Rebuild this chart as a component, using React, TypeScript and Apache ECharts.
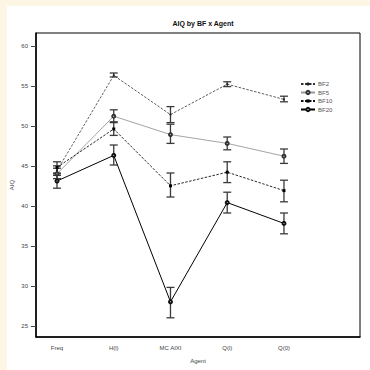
import React, { useEffect, useRef } from "react";
import * as echarts from "echarts";

const categories = ["Freq", "H(l)", "MC AIXI", "Q(l)", "Q(0)"];
const yTicks = [25, 30, 35, 40, 45, 50, 55, 60];
const seriesNames = ["BF2", "BF5", "BF10", "BF20"];

const bf2Mean = [44.4, 56.3, 51.4, 55.2, 53.3];
const bf2Low = [43.8, 56.1, 50.4, 54.9, 53.0];
const bf2High = [45.0, 56.6, 52.4, 55.5, 53.7];

const bf5Mean = [44.0, 51.2, 48.9, 47.8, 46.2];
const bf5Low = [43.4, 50.4, 47.8, 47.0, 45.3];
const bf5High = [44.7, 52.0, 50.2, 48.6, 47.1];

const bf10Mean = [44.8, 49.6, 42.5, 44.2, 41.9];
const bf10Low = [44.1, 48.8, 41.1, 42.9, 40.5];
const bf10High = [45.5, 50.5, 44.1, 45.5, 43.2];

const bf20Mean = [43.1, 46.3, 28.0, 40.4, 37.8];
const bf20Low = [42.2, 45.1, 26.0, 39.1, 36.5];
const bf20High = [44.0, 47.6, 29.8, 41.7, 39.1];

const FONT = "Liberation Sans, Arial, sans-serif";

function errSeries(low: number[], high: number[]) {
  return {
    type: "custom",
    silent: true,
    z: 3,
    data: low.map((l, i) => [i + 1, l, high[i]]),
    renderItem: (params: any, api: any) => {
      const x = api.value(0);
      const lo = api.coord([x, api.value(1)]);
      const hi = api.coord([x, api.value(2)]);
      const w = 4;
      const style = { stroke: "#3a3a3a", lineWidth: 1.3 };
      return {
        type: "group",
        children: [
          { type: "line", shape: { x1: lo[0], y1: lo[1], x2: hi[0], y2: hi[1] }, style },
          { type: "line", shape: { x1: lo[0] - w, y1: lo[1], x2: lo[0] + w, y2: lo[1] }, style },
          { type: "line", shape: { x1: hi[0] - w, y1: hi[1], x2: hi[0] + w, y2: hi[1] }, style },
        ],
      };
    },
  };
}

function pts(arr: number[]) {
  return arr.map((v, i) => [i + 1, v]);
}

export default function App() {
  const ref = useRef<HTMLDivElement>(null);
  useEffect(() => {
    document.body.style.background = "#fdf6e4";
    document.body.style.overflow = "hidden";
    const chart = echarts.init(ref.current!, undefined, { renderer: "svg" });
    chart.setOption({
      animation: false,
      backgroundColor: "#ffffff",
      textStyle: { fontFamily: FONT },
      title: {
        text: "AIQ by BF x Agent",
        left: 191,
        textAlign: "center",
        top: 9,
        textStyle: { fontSize: 7, fontWeight: "bold", color: "#111", fontFamily: FONT },
      },
      legend: {
        orient: "vertical",
        left: 288,
        top: 70,
        itemWidth: 14,
        itemHeight: 4,
        itemGap: 2.5,
        data: seriesNames,
        textStyle: { fontSize: 6, color: "#555", fontFamily: FONT, padding: [0, 0, 0, -2] },
      },
      grid: {
        left: 29,
        top: 27,
        right: 10,
        bottom: 33,
        outerBoundsMode: "none",
        containLabel: false,
        show: true,
        borderColor: "#000",
        borderWidth: 1,
      },
      xAxis: {
        type: "value",
        min: 0.63,
        max: 6.34,
        name: "Agent",
        nameLocation: "middle",
        nameGap: 21,
        nameMoveOverlap: false,
        nameTextStyle: { fontSize: 6, color: "#444", fontFamily: FONT },
        axisLine: { show: true, lineStyle: { color: "#000", width: 1.5 } },
        axisTick: { show: false },
        splitLine: { show: false },
        axisLabel: {
          customValues: [1, 2, 3, 4, 5],
          fontSize: 6,
          color: "#444",
          margin: 8,
          formatter: (v: number) => categories[Math.round(v) - 1] ?? "",
        },
      },
      yAxis: {
        type: "value",
        min: 23.6,
        max: 61.6,
        name: "AIQ",
        nameLocation: "middle",
        nameGap: 21,
        nameMoveOverlap: false,
        nameTextStyle: { fontSize: 6, color: "#444", fontFamily: FONT },
        axisLine: { show: true, lineStyle: { color: "#000", width: 1.5 } },
        axisTick: { show: true, customValues: yTicks, length: 5, lineStyle: { color: "#444" } },
        splitLine: { show: false },
        axisLabel: { customValues: yTicks, fontSize: 6, color: "#444", margin: 8 },
      },
      series: [
        {
          name: "BF2",
          type: "line",
          data: pts(bf2Mean),
          symbol: "circle",
          symbolSize: 2,
          itemStyle: { color: "#222" },
          lineStyle: { color: "#333", width: 0.8, type: [2.5, 1.5] },
          z: 4,
        },
        {
          name: "BF5",
          type: "line",
          data: pts(bf5Mean),
          symbol: "emptyCircle",
          symbolSize: 3,
          itemStyle: { color: "#333", borderWidth: 0.9 },
          lineStyle: { color: "#9a9a9a", width: 0.9, type: "solid" },
          z: 4,
        },
        {
          name: "BF10",
          type: "line",
          data: pts(bf10Mean),
          symbol: "rect",
          symbolSize: 3,
          itemStyle: { color: "#000" },
          lineStyle: { color: "#111", width: 0.9, type: [2.5, 1.5] },
          z: 4,
        },
        {
          name: "BF20",
          type: "line",
          data: pts(bf20Mean),
          symbol: "emptyCircle",
          symbolSize: 3,
          itemStyle: { color: "#111", borderWidth: 0.9 },
          lineStyle: { color: "#000", width: 1, type: "solid" },
          z: 4,
        },
        errSeries(bf2Low, bf2High),
        errSeries(bf5Low, bf5High),
        errSeries(bf10Low, bf10High),
        errSeries(bf20Low, bf20High),
      ],
    });
    return () => chart.dispose();
  }, []);
  return (
    <div
      ref={ref}
      style={{ position: "fixed", left: 7, top: 6, width: 363, height: 364 }}
    />
  );
}
